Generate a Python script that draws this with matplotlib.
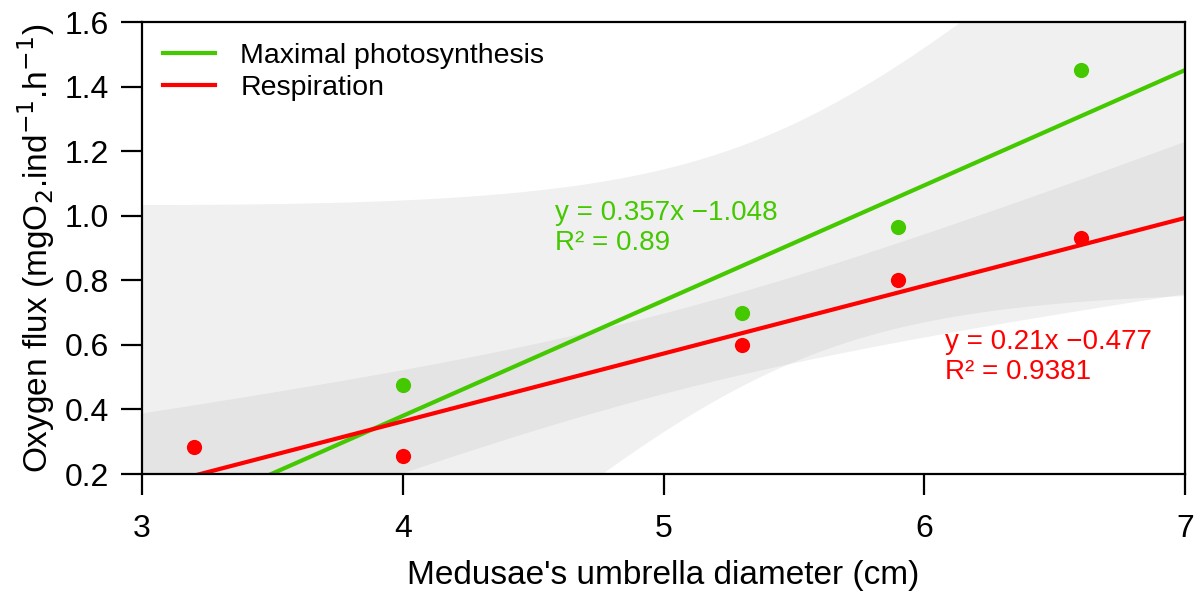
import numpy as np
import matplotlib
matplotlib.use("Agg")
from matplotlib import pyplot as plt

plt.rcParams['font.family'] = ['Liberation Sans', 'DejaVu Sans']

# measured points
photo_x = [4.0, 5.3, 5.9, 6.6]
photo_y = [0.475, 0.70, 0.965, 1.45]
resp_x = [3.2, 4.0, 5.3, 5.9, 6.6]
resp_y = [0.285, 0.255, 0.60, 0.80, 0.93]

# fitted equations shown on the chart
photo_fit = (0.357, -1.048)
resp_fit = (0.21, -0.477)
photo_label = ["y = 0.357x \u22121.048", "R\u00b2 = 0.89"]
resp_label = ["y = 0.21x \u22120.477", "R\u00b2 = 0.9381"]

# 95% t quantiles for n-2 degrees of freedom
t95 = {2: 4.303, 3: 3.182}

green = '#44c800'
red = '#ff0000'


def conf_band(x, y, xs):
    x = np.asarray(x)
    y = np.asarray(y)
    n = len(x)
    b, a = np.polyfit(x, y, 1)
    resid = y - (a + b * x)
    s = np.sqrt(np.sum(resid ** 2) / (n - 2))
    sxx = np.sum((x - x.mean()) ** 2)
    se = s * np.sqrt(1 / n + (xs - x.mean()) ** 2 / sxx)
    fit = a + b * xs
    return fit - t95[n - 2] * se, fit + t95[n - 2] * se


fig = plt.figure(figsize=(11.98, 5.97), dpi=100)
ax = fig.add_axes([142 / 1198, 1 - 474 / 597, (1185 - 142) / 1198, (474 - 22) / 597])

xs = np.linspace(3, 7, 300)
lo, hi = conf_band(photo_x, photo_y, xs)
ax.fill_between(xs, lo, hi, color='#b4b4b4', alpha=0.2, lw=0)
lo, hi = conf_band(resp_x, resp_y, xs)
ax.fill_between(xs, lo, hi, color='#b4b4b4', alpha=0.2, lw=0)

ax.plot(xs, photo_fit[0] * xs + photo_fit[1], color=green, lw=3, label='Maximal photosynthesis')
ax.plot(xs, resp_fit[0] * xs + resp_fit[1], color=red, lw=3, label='Respiration')
ax.scatter(photo_x, photo_y, s=120, color=green, zorder=3, lw=0)
ax.scatter(resp_x, resp_y, s=120, color=red, zorder=3, lw=0)

ax.text(4.584, 1.008, photo_label[0], color=green, fontsize=20, va='center')
ax.text(4.584, 0.916, photo_label[1], color=green, fontsize=20, va='center')
ax.text(6.08, 0.609, resp_label[0], color=red, fontsize=20, va='center')
ax.text(6.08, 0.516, resp_label[1], color=red, fontsize=20, va='center')

ax.set_xlim(3, 7)
ax.set_ylim(0.2, 1.6)
ax.set_xticks([3, 4, 5, 6, 7])
ax.set_yticks(np.arange(0.2, 1.61, 0.2))
ax.set_yticklabels(['0.2', '0.4', '0.6', '0.8', '1.0', '1.2', '1.4', '1.6'])
ax.tick_params(labelsize=23, length=15, width=1.6)
ax.tick_params(axis='x', pad=14)
ax.tick_params(axis='y', pad=9)
for sp in ax.spines.values():
    sp.set_linewidth(1.6)

ax.set_xlabel("Medusae's umbrella diameter (cm)", fontsize=24, labelpad=11)
ax.set_ylabel("Oxygen flux (mgO$_2$.ind$^{-1}$.h$^{-1}$)", fontsize=24, labelpad=5)

ax.legend(loc='upper left', frameon=False, fontsize=20.5, handlelength=1.8,
          borderaxespad=0.35, labelspacing=0.2, handletextpad=0.9)

fig.savefig('out.png', dpi=100)
